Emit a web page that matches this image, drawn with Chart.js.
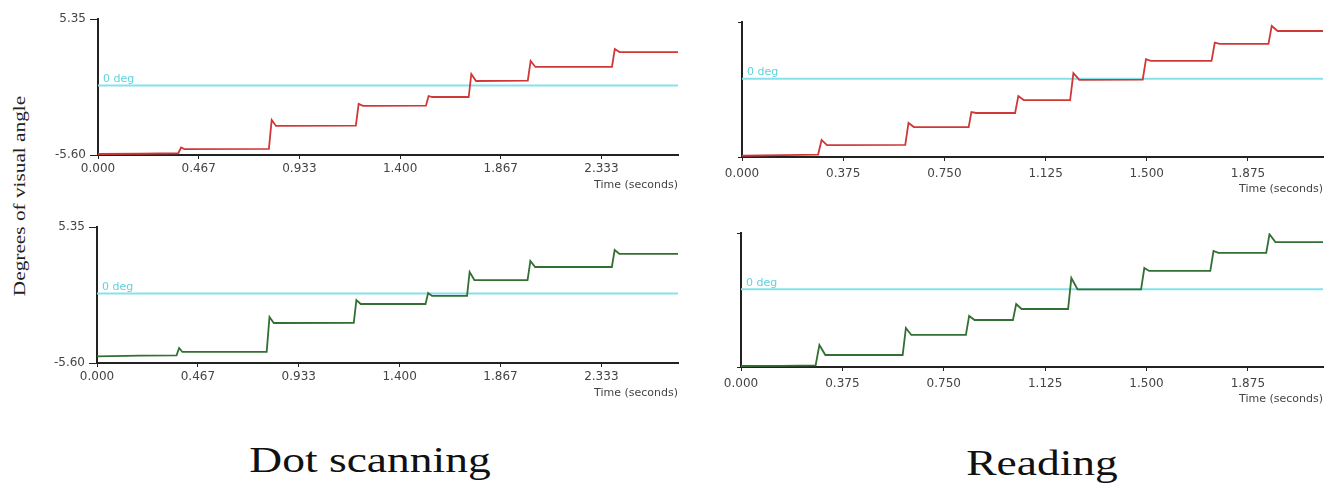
<!DOCTYPE html>
<html>
<head>
<meta charset="utf-8">
<script src="https://cdn.jsdelivr.net/npm/chart.js@4.4.1/dist/chart.umd.min.js"></script>
<style>
  body { margin: 0; background: #fff; }
  #page { position: relative; width: 1324px; height: 496px; overflow: hidden; }
  canvas { position: absolute; }
  .big { position: absolute; font-family: "Liberation Serif", "Times New Roman", serif; font-size: 35px; line-height: 1; color: #111; white-space: nowrap; transform: translateX(-50%) scaleX(1.3); }
  #ylab { position: absolute; left: 20px; top: 196px; font-family: "Liberation Serif", serif; font-size: 16px; color: #222; white-space: nowrap; transform: translate(-50%, -50%) rotate(-90deg) scaleX(1.33); }
</style>
</head>
<body>
<div id="page">
  <canvas id="dotRed" width="660" height="200" style="left:40px;top:0px"></canvas>
  <canvas id="readRed" width="624" height="200" style="left:700px;top:0px"></canvas>
  <canvas id="dotGreen" width="660" height="200" style="left:40px;top:208px"></canvas>
  <canvas id="readGreen" width="624" height="200" style="left:700px;top:210px"></canvas>
  <div id="ylab">Degrees of visual angle</div>
  <div class="big" style="left:370px;top:443px">Dot scanning</div>
  <div class="big" style="left:1042px;top:446px">Reading</div>
</div>
<script>
// tick positions (seconds) and axis ranges
const dotTicks = [0, 0.4667, 0.9333, 1.4, 1.8667, 2.3333];
const readTicks = [0, 0.375, 0.75, 1.125, 1.5, 1.875];
const dotMax = 2.688;
const readMax = 2.153;
const dotYRange = [-5.60, 5.35];
const dotYLabels = ["-5.60", "5.35"];
const readYRange = [-6.35, 4.6];

// dot scanning, red trace
const dotRedTime = [0.000, 0.200, 0.372, 0.385, 0.400, 0.792, 0.805, 0.825, 1.195, 1.208, 1.228, 1.520, 1.532, 1.550, 1.718, 1.730, 1.752, 1.992, 2.005, 2.027, 2.382, 2.395, 2.417, 2.688];
const dotRedDeg  = [-5.52, -5.50, -5.46, -5.00, -5.12, -5.10, -2.78, -3.26, -3.24, -1.49, -1.65, -1.63, -0.85, -0.93, -0.93, 0.92, 0.36, 0.38, 1.97, 1.49, 1.50, 2.93, 2.69, 2.69];

// dot scanning, green trace
const dotGreenTime = [0.000, 0.200, 0.368, 0.380, 0.395, 0.785, 0.798, 0.818, 1.188, 1.200, 1.220, 1.520, 1.532, 1.550, 1.712, 1.724, 1.746, 1.992, 2.005, 2.027, 2.382, 2.395, 2.417, 2.688];
const dotGreenDeg  = [-5.06, -5.00, -4.98, -4.39, -4.71, -4.71, -1.90, -2.38, -2.36, -0.53, -0.85, -0.85, 0.04, -0.20, -0.20, 1.73, 1.08, 1.08, 2.61, 2.13, 2.13, 3.50, 3.18, 3.18];

// reading, red trace
const readRedTime = [0.000, 0.150, 0.282, 0.295, 0.315, 0.605, 0.617, 0.637, 0.840, 0.850, 0.868, 1.012, 1.024, 1.044, 1.216, 1.228, 1.250, 1.485, 1.497, 1.515, 1.740, 1.752, 1.770, 1.951, 1.963, 1.985, 2.153];
const readRedDeg  = [-6.25, -6.20, -6.15, -4.97, -5.38, -5.36, -3.59, -3.92, -3.92, -2.70, -2.78, -2.78, -1.40, -1.73, -1.73, 0.46, -0.10, -0.08, 1.58, 1.44, 1.44, 2.92, 2.82, 2.82, 4.28, 3.87, 3.87];

// reading, green trace
const readGreenTime = [0.000, 0.150, 0.276, 0.290, 0.312, 0.598, 0.610, 0.630, 0.832, 0.844, 0.864, 1.006, 1.018, 1.038, 1.210, 1.222, 1.245, 1.480, 1.492, 1.510, 1.736, 1.748, 1.766, 1.943, 1.955, 1.977, 2.153];
const readGreenDeg  = [-6.27, -6.25, -6.22, -4.55, -5.37, -5.37, -3.16, -3.73, -3.73, -2.18, -2.51, -2.51, -1.20, -1.61, -1.61, 0.92, 0.00, 0.00, 1.74, 1.50, 1.50, 3.13, 2.97, 2.97, 4.50, 3.86, 3.86];

// writes "0 deg" above the cyan zero line
const zeroLabel = {
  id: "zeroLabel",
  afterDatasetsDraw(chart) {
    const { ctx, scales } = chart;
    const y = scales.y.getPixelForValue(0);
    ctx.save();
    ctx.font = "11px DejaVu Sans";
    ctx.fillStyle = "#5cd3de";
    ctx.textBaseline = "bottom";
    ctx.fillText("0 deg", scales.x.left + 5, y - 1);
    ctx.restore();
  }
};

function panel(id, cfg) {
  const pts = cfg.time.map((t, i) => ({ x: t, y: cfg.deg[i] }));
  new Chart(document.getElementById(id), {
    type: "line",
    data: {
      datasets: [
        { data: pts, borderColor: cfg.color, borderWidth: 1.8, pointRadius: 0, tension: 0, order: 1 },
        { data: [{ x: 0, y: 0 }, { x: cfg.xMax, y: 0 }], borderColor: "#86e2ea", borderWidth: 2, pointRadius: 0, order: 2 }
      ]
    },
    options: {
      responsive: false,
      animation: false,
      layout: { padding: { top: cfg.padTop, right: cfg.padRight, left: 0, bottom: 0 } },
      plugins: { legend: { display: false }, tooltip: { enabled: false } },
      scales: {
        x: {
          type: "linear",
          min: 0,
          max: cfg.xMax,
          afterBuildTicks: s => { s.ticks = cfg.ticks.map(v => ({ value: v })); },
          afterFit: s => { s.height = cfg.xH; },
          ticks: { font: { family: "DejaVu Sans", size: 12 }, color: "#444", padding: cfg.xPad, maxRotation: 0, autoSkip: false, callback: v => v.toFixed(3) },
          grid: { drawOnChartArea: false, drawTicks: true, tickLength: 4, color: "#222" },
          border: { display: true, color: "#222", width: 2 },
          title: { display: true, text: "Time (seconds)", align: "end", color: "#444", font: { family: "DejaVu Sans", size: 11 }, padding: { top: 0, bottom: cfg.titlePad } }
        },
        y: {
          min: cfg.yRange[0],
          max: cfg.yRange[1],
          afterBuildTicks: s => { s.ticks = cfg.yRange.map(v => ({ value: v })); },
          afterFit: s => { s.width = cfg.yW; },
          ticks: { font: { family: "DejaVu Sans", size: 12 }, color: "#444", padding: 4, callback: (v, i) => cfg.yLabels ? cfg.yLabels[i] : "" },
          grid: { drawOnChartArea: false, drawTicks: true, tickLength: cfg.yTick, color: "#222" },
          border: { display: true, color: "#222", width: 2 }
        }
      }
    },
    plugins: [zeroLabel]
  });
}

panel("dotRed", { time: dotRedTime, deg: dotRedDeg, color: "#d03838", xMax: dotMax, ticks: dotTicks, yRange: dotYRange, yLabels: dotYLabels, padTop: 19, padRight: 22, yW: 58, xH: 45, xPad: 3, yTick: 8, titlePad: 8 });
panel("readRed", { time: readRedTime, deg: readRedDeg, color: "#d03838", xMax: readMax, ticks: readTicks, yRange: readYRange, yLabels: null, padTop: 22, padRight: 1, yW: 42, xH: 43, xPad: 6, yTick: 4, titlePad: 4 });
panel("dotGreen", { time: dotGreenTime, deg: dotGreenDeg, color: "#326f32", xMax: dotMax, ticks: dotTicks, yRange: dotYRange, yLabels: dotYLabels, padTop: 19, padRight: 22, yW: 57, xH: 45, xPad: 3, yTick: 8, titlePad: 8 });
panel("readGreen", { time: readGreenTime, deg: readGreenDeg, color: "#326f32", xMax: readMax, ticks: readTicks, yRange: readYRange, yLabels: null, padTop: 23, padRight: 1, yW: 41, xH: 43, xPad: 6, yTick: 4, titlePad: 4 });
</script>
</body>
</html>
